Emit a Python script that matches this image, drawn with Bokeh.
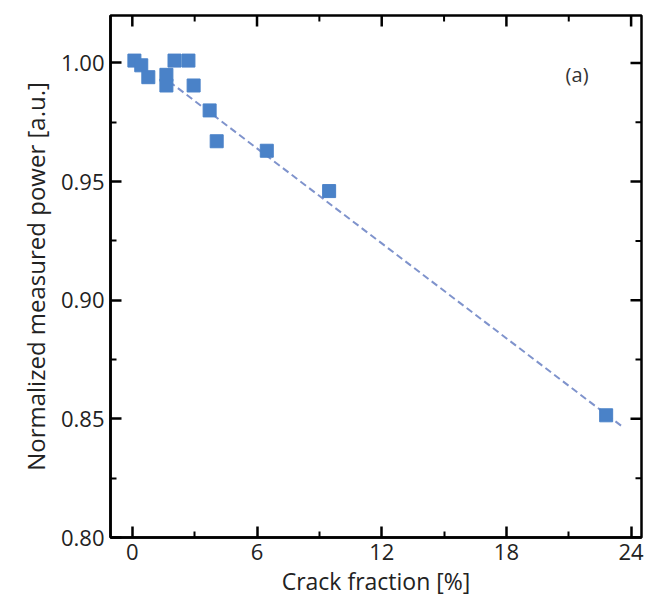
import math
from bokeh.plotting import figure
from bokeh.models import FixedTicker, Range1d, ColumnDataSource
from bokeh.core.properties import value
from bokeh.embed import file_html
from bokeh.resources import INLINE

crack_fraction = [0.1, 0.43, 0.77, 1.64, 1.64, 2.03, 2.7, 2.95, 3.72, 4.06, 6.47, 9.47, 22.8]
norm_power = [1.001, 0.999, 0.994, 0.995, 0.9905, 1.001, 1.001, 0.9905, 0.980, 0.967, 0.963, 0.946, 0.8515]
fit_x = [1.35, 23.6]
fit_y = [0.995, 0.8466]
x_ticks = [0, 6, 12, 18, 24]
x_minor = [3, 9, 15, 21]
y_ticks = [0.80, 0.85, 0.90, 0.95, 1.00]
y_minor = [0.825, 0.875, 0.925, 0.975]

FONT = "Open Sans"
X0, X1 = -1.05, 24.5
Y0, Y1 = 0.80, 1.020

p = figure(width=653, height=605, output_backend="svg", toolbar_location=None,
           x_range=Range1d(X0, X1), y_range=Range1d(Y0, Y1),
           min_border_left=110, min_border_right=12, min_border_top=15, min_border_bottom=68)
p.background_fill_color = "white"
p.border_fill_color = "white"
p.grid.visible = False
p.outline_line_color = "black"
p.outline_line_width = 2.5

p.line(fit_x, fit_y, line_color="#7f93cc", line_width=2, line_dash="7 4")
src = ColumnDataSource(dict(x=crack_fraction, y=norm_power))
p.scatter("x", "y", source=src, marker="square", size=13, fill_color="#4a82c8",
          line_color="#4a82c8")

p.text(x=[21.4], y=[0.995], text=["(a)"], text_font=value(FONT), text_font_size="20px",
       text_align="center", text_baseline="middle", text_color="#333333")

# mirrored inward ticks on top and right edges (clipped to frame)
p.scatter(x_ticks, [Y1] * len(x_ticks), marker="dash", size=22, angle=math.pi / 2,
          line_color="black", line_width=2.5)
p.scatter(x_minor, [Y1] * len(x_minor), marker="dash", size=12, angle=math.pi / 2,
          line_color="black", line_width=2)
p.scatter([X1] * len(y_ticks), y_ticks, marker="dash", size=22,
          line_color="black", line_width=2.5)
p.scatter([X1] * len(y_minor), y_minor, marker="dash", size=12,
          line_color="black", line_width=2)

for ax in (p.xaxis[0], p.yaxis[0]):
    ax.axis_line_width = 2.5
    ax.major_tick_in = 11
    ax.major_tick_out = 0
    ax.minor_tick_in = 6
    ax.minor_tick_out = 0
    ax.major_tick_line_width = 2.5
    ax.minor_tick_line_width = 2
    ax.major_label_text_font = FONT
    ax.major_label_text_font_size = "22px"
    ax.major_label_text_color = "#222222"
    ax.axis_label_text_font = FONT
    ax.axis_label_text_font_style = "normal"
    ax.axis_label_text_color = "#222222"

p.xaxis.ticker = FixedTicker(ticks=x_ticks, minor_ticks=x_minor)
p.yaxis.ticker = FixedTicker(ticks=y_ticks, minor_ticks=y_minor)
p.xaxis.axis_label = "Crack fraction [%]"
p.yaxis.axis_label = "Normalized measured power [a.u.]"
p.xaxis.axis_label_text_font_size = "23px"
p.yaxis.axis_label_text_font_size = "24px"
p.yaxis.major_label_overrides = {t: f"{t:.2f}" for t in y_ticks}
p.xaxis.major_label_standoff = 6
p.yaxis.major_label_standoff = 6
p.xaxis.axis_label_standoff = 2
p.yaxis.axis_label_standoff = 6

open("out.html", "w").write(file_html(p, INLINE))
